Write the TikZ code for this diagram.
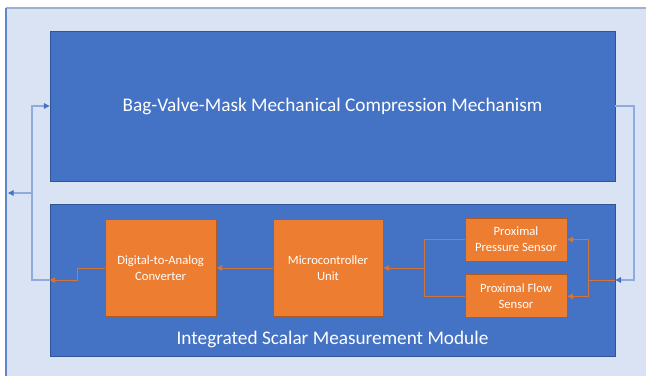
\documentclass[tikz,border=0pt]{standalone}
\usepackage{fontspec}
\setmainfont{Carlito}
\definecolor{bvmBlue}{HTML}{4472C4}
\definecolor{bvmBlueDark}{HTML}{2F5597}
\definecolor{bvmPanel}{HTML}{DAE3F3}
\definecolor{bvmPanelEdge}{HTML}{9DB1D4}
\definecolor{bvmLink}{HTML}{8FAADC}
\definecolor{bvmOrange}{HTML}{ED7D31}
\definecolor{bvmOrangeDark}{HTML}{AE5A21}
\definecolor{bvmOrangeLink}{HTML}{D0763C}
\usetikzlibrary{arrows.meta, positioning}
\tikzset{
    module node/.style={rectangle, draw=bvmBlueDark, fill=bvmBlue, line width=0.5pt, text=white, minimum width=14.125cm, align=center, font=\fontsize{13.7}{16}\selectfont},
    unit node/.style={rectangle, draw=bvmOrangeDark, fill=bvmOrange, line width=0.6pt, text=white, align=center, font=\fontsize{9}{11.4}\selectfont},
    blue link/.style={-{Triangle[length=4pt, width=4pt, color=bvmBlue]}, bvmLink, line width=0.8pt},
    orange line/.style={bvmOrangeLink, line width=0.6pt},
    orange link/.style={orange line, -{Triangle[length=4pt, width=4pt]}},
}

\begin{document}
\begin{tikzpicture}[x=0.025cm, y=-0.025cm]
    \useasboundingbox (0,0) rectangle (646,376);
    % background panel
    \fill[bvmPanel] (6,8) rectangle (646,376);
    \draw[bvmPanelEdge, line width=1.2pt] (6,8) -- (646,8);
    \draw[bvmBlue!85, line width=0.8pt] (6,8) -- (6,376);

    \node[module node, minimum height=3.75cm] (bvm) at (332.5,106) {Bag-Valve-Mask Mechanical Compression Mechanism};
    \node[module node, minimum height=3.8cm] (ism) at (332.5,280) {};
    \node[text=white, anchor=base, font=\fontsize{13.7}{16}\selectfont] (ismlabel) at (332.5,344) {Integrated Scalar Measurement Module};

    \node[unit node, minimum width=2.75cm, minimum height=2.425cm] (mcu) at (328,268) {Microcontroller\\Unit};
    \node[unit node, minimum width=2.775cm, minimum height=2.425cm, left=1.4cm of mcu] (dac) {Digital-to-Analog\\Converter};
    \node[unit node, minimum width=2.55cm, minimum height=1.075cm] (pps) at (516,239.5) {Proximal\\Pressure Sensor};
    \node[unit node, minimum width=2.55cm, minimum height=1.075cm, below=0.325cm of pps] (pfs) {Proximal Flow\\Sensor};

    \coordinate (split) at (588,280);
    \coordinate (merge) at (424,268);
    \coordinate (fork) at (32,193);
    \coordinate (out) at (8,193);

    \draw[blue link] (bvm.east) -- (634,106) |- (ism.east);
    \draw[orange line] (ism.east) -- (split);
    \draw[orange link] (split) |- (pps.east);
    \draw[orange link] (split) |- (pfs.east);
    \draw[orange line] (pps.west) -| (merge);
    \draw[orange line] (pfs.west) -| (merge);
    \draw[orange link] (merge) -- (mcu.east);
    \draw[orange link] (mcu.west) -- (dac.east);
    \draw[orange link] (dac.west) -- ++(-27,0) |- (ism.west);
    \draw[blue link] (ism.west) -| (fork) |- (bvm.west);
    \draw[blue link] (fork) -- (out);
\end{tikzpicture}
\end{document}
